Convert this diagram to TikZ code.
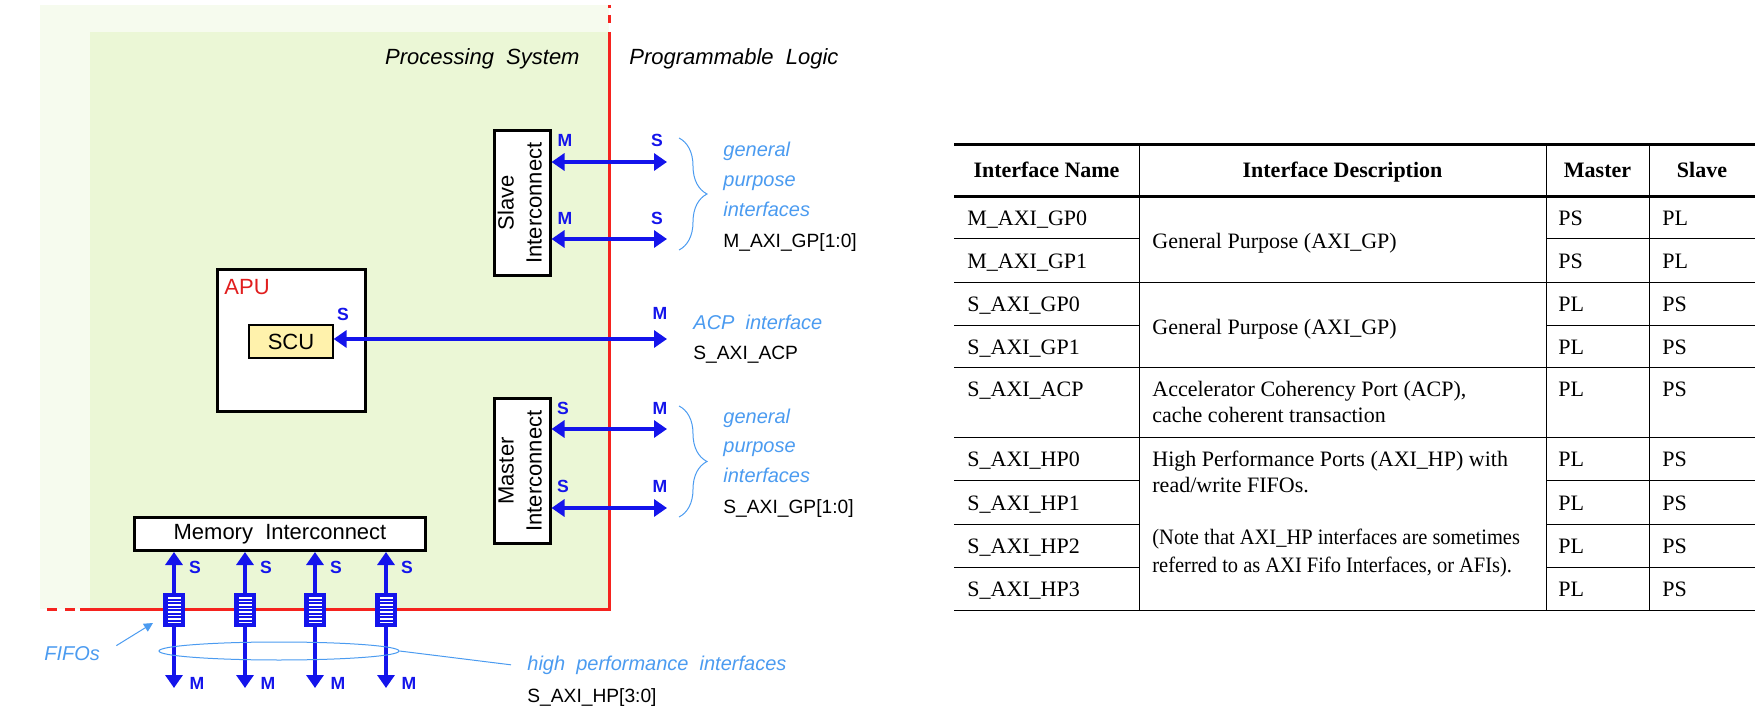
\documentclass[tikz,border=0pt]{standalone}
\usepackage{fontspec}
\setmainfont{Liberation Serif}
\setsansfont{Liberation Sans}
\newfontfamily\narrowserif[FakeStretch=0.93]{Liberation Serif}
\usepackage{graphicx}
\usetikzlibrary{arrows.meta,decorations.pathreplacing,shapes.geometric}

\definecolor{psfade}{RGB}{246,251,238}
\definecolor{psgreen}{RGB}{235,247,214}
\definecolor{plred}{RGB}{245,35,30}
\definecolor{axiblue}{RGB}{20,20,235}
\definecolor{noteblue}{RGB}{75,155,240}
\definecolor{apured}{RGB}{225,30,30}
\definecolor{scuyellow}{RGB}{255,242,172}

\tikzset{
  blk/.style={draw, line width=1.5pt, fill=white, inner sep=0pt, align=center,
    font=\sffamily\fontsize{11}{14}\selectfont},
  bus/.style={axiblue, line width=2.3pt,
    {Triangle[length=6.5pt,width=8.5pt]}-{Triangle[length=6.5pt,width=8.5pt]}},
  port/.style={text=axiblue, inner sep=0pt, font=\sffamily\bfseries\fontsize{8.8}{10}\selectfont},
  fifo/.style={draw=axiblue, fill=axiblue, line width=1pt, inner sep=0pt,
    minimum width=10pt, minimum height=16pt},
  stripe/.style={white, line width=6.5pt, dash pattern=on 0.8pt off 0.95pt},
  note/.style={text=noteblue, inner sep=0pt, anchor=base west,
    font=\sffamily\itshape\fontsize{10}{12}\selectfont},
  sig/.style={inner sep=0pt, anchor=base west, font=\sffamily\fontsize{9.6}{12}\selectfont},
  side/.style={inner sep=0pt, font=\sffamily\itshape\fontsize{11}{14}\selectfont},
  hint/.style={noteblue, line width=0.5pt},
  cell/.style={inner sep=0pt, anchor=base west, font=\fontsize{11}{13.2}\selectfont, align=left},
  head/.style={inner sep=0pt, anchor=base, font=\bfseries\fontsize{11}{13.2}\selectfont},
  thin/.style={line width=0.5pt},
  thick/.style={line width=1.5pt}
}

\begin{document}
\begin{tikzpicture}[x=0.5pt, y=-0.5pt]

  \useasboundingbox (0,0) rectangle (1760,710);

  %% processing system area
  \fill[psfade] (40,5) rectangle (609,609);
  \fill[psgreen] (90,32) rectangle (609,609);
  \draw[plred, line width=1.5pt] (80,609) -- (609,609) -- (609,32);
  \draw[plred, line width=1.5pt, dash pattern=on 5pt off 4pt] (47,609) -- (76,609);
  \draw[plred, line width=1.5pt, dash pattern=on 1.5pt off 3.5pt on 4pt off 4.5pt] (609,5) -- (609,32);

  \node[side, anchor=base east] (ps) at (580,65) {Processing\ \ System};
  \node[side, anchor=base west] (pl) at (629,65) {Programmable\ \ Logic};

  %% blocks
  \node[blk, minimum width=27.5pt, minimum height=72.5pt] (sic) at (522,203)
    {\rotatebox{90}{\begin{tabular}{@{}c@{}}Slave\\Interconnect\end{tabular}}};
  \node[blk, minimum width=27.5pt, minimum height=72.5pt] (mic) at (522,471)
    {\rotatebox{90}{\begin{tabular}{@{}c@{}}Master\\Interconnect\end{tabular}}};
  \node[blk, minimum width=74pt, minimum height=71pt] (apu) at (291.5,340.5) {};
  \node[inner sep=0pt, anchor=base west, text=apured, font=\sffamily\fontsize{11}{14}\selectfont]
    (apulbl) at (224,295) {APU};
  \node[blk, line width=0.6pt, fill=scuyellow, minimum width=42pt, minimum height=16.5pt]
    (scu) at (291,341.5) {SCU};
  \node[blk, minimum width=145.5pt, minimum height=16.5pt] (mem) at (280,534) {Memory\ \ Interconnect};

  %% PL side ends
  \coordinate (gpa) at (667,162);
  \coordinate (gpb) at (667,239);
  \coordinate (acp) at (667,339);
  \coordinate (gpc) at (667,429);
  \coordinate (gpd) at (667,508);
  \coordinate (hpa) at (174,688);
  \coordinate (hpb) at (245,688);
  \coordinate (hpc) at (315,688);
  \coordinate (hpd) at (386,688);

  \draw[bus] (sic.east |- gpa) -- (gpa); %% SI<->PL
  \draw[bus] (sic.east |- gpb) -- (gpb); %% SI<->PL
  \draw[bus] (scu.east |- acp) -- (acp); %% SCU<->PL
  \draw[bus] (mic.east |- gpc) -- (gpc); %% MI<->PL
  \draw[bus] (mic.east |- gpd) -- (gpd); %% MI<->PL
  \draw[bus] (mem.south -| hpa) -- (hpa); %% MEM<->HP0
  \draw[bus] (mem.south -| hpb) -- (hpb); %% MEM<->HP1
  \draw[bus] (mem.south -| hpc) -- (hpc); %% MEM<->HP2
  \draw[bus] (mem.south -| hpd) -- (hpd); %% MEM<->HP3

  %% FIFOs
  \node[fifo] (fifoa) at (174,610) {};
  \node[fifo] (fifob) at (245,610) {};
  \node[fifo] (fifoc) at (315,610) {};
  \node[fifo] (fifod) at (386,610) {};
  \draw[stripe] (fifoa.north) ++(0,4) -- ++(0,26);
  \draw[stripe] (fifob.north) ++(0,4) -- ++(0,26);
  \draw[stripe] (fifoc.north) ++(0,4) -- ++(0,26);
  \draw[stripe] (fifod.north) ++(0,4) -- ++(0,26);

  %% master / slave marks
  \node[port] (pm1) at (565,140) {M};
  \node[port] (pm2) at (565,218) {M};
  \node[port] (ps1) at (657,140) {S};
  \node[port] (ps2) at (657,218) {S};
  \node[port] (pscu) at (343,314) {S};
  \node[port] (pacp) at (660,313) {M};
  \node[port] (ps3) at (563,408) {S};
  \node[port] (ps4) at (563,486) {S};
  \node[port] (pm3) at (660,408) {M};
  \node[port] (pm4) at (660,486) {M};
  \node[port] (pha) at (195,567) {S};
  \node[port] (phb) at (266,567) {S};
  \node[port] (phc) at (336,567) {S};
  \node[port] (phd) at (407,567) {S};
  \node[port] (pma) at (197,683) {M};
  \node[port] (pmb) at (268,683) {M};
  \node[port] (pmc) at (338,683) {M};
  \node[port] (pmd) at (409,683) {M};

  %% interface notes
  \draw[hint, decorate, decoration={brace, amplitude=14pt}] (679,138) -- (679,250);
  \draw[hint, decorate, decoration={brace, amplitude=14pt}] (679,406) -- (679,517);
  \node[note] (gpn1) at (723,157) {general};
  \node[note] (gpn2) at (723,187) {purpose};
  \node[note] (gpn3) at (723,217) {interfaces};
  \node[sig] (gpm) at (723,248) {M\_AXI\_GP[1:0]};
  \node[note] (acpn) at (693,330) {ACP\ \ interface};
  \node[sig] (acps) at (693,360) {S\_AXI\_ACP};
  \node[note] (gpn4) at (723,424) {general};
  \node[note] (gpn5) at (723,453) {purpose};
  \node[note] (gpn6) at (723,483) {interfaces};
  \node[sig] (gps) at (723,514) {S\_AXI\_GP[1:0]};

  \node[note] (fifolbl) at (44,660) {FIFOs};
  \draw[hint, -{Triangle[length=4.5pt,width=4.5pt]}] ([xshift=8pt]fifolbl.north east) -- ([xshift=-5pt,yshift=2pt]fifoa.south west);
  \node[draw=noteblue, line width=0.5pt, ellipse, inner sep=0pt, minimum width=120pt, minimum height=9pt] (hpring) at (279,651) {};
  \node[note] (hpn) at (527,670) {high\ \ performance\ \ interfaces};
  \node[sig] (hps) at (527,702) {S\_AXI\_HP[3:0]};
  \draw[hint] (hpring.east) -- ([xshift=-8pt]hpn.west);

  %% table rules
  \draw[thick] (954,145) -- (1755,145);
  \draw[thick] (954,197) -- (1755,197);
  \draw[thin] (954,283) -- (1755,283);
  \draw[thin] (954,368) -- (1755,368);
  \draw[thin] (954,438) -- (1755,438);
  \draw[thin] (954,610) -- (1755,610);
  \draw[thin] (954,239) -- (1139,239) (1546,239) -- (1755,239);
  \draw[thin] (954,326) -- (1139,326) (1546,326) -- (1755,326);
  \draw[thin] (954,481) -- (1139,481) (1546,481) -- (1755,481);
  \draw[thin] (954,524) -- (1139,524) (1546,524) -- (1755,524);
  \draw[thin] (954,567) -- (1139,567) (1546,567) -- (1755,567);
  \draw[thin] (1139,145) -- (1139,610);
  \draw[thin] (1546,145) -- (1546,610);
  \draw[thin] (1649,145) -- (1649,610);

  %% table header
  \node[head] (hname) at (1046.5,178) {Interface Name};
  \node[head] (hdesc) at (1342.5,178) {Interface Description};
  \node[head] (hmst) at (1597.5,178) {Master};
  \node[head] (hslv) at (1702,178) {Slave};

  %% table names
  \node[cell] (n1) at (967,225.5) {M\_AXI\_GP0};
  \node[cell] (n2) at (967,268.5) {M\_AXI\_GP1};
  \node[cell] (n3) at (967,312) {S\_AXI\_GP0};
  \node[cell] (n4) at (967,354.5) {S\_AXI\_GP1};
  \node[cell] (n5) at (967,397) {S\_AXI\_ACP};
  \node[cell] (n6) at (967,467) {S\_AXI\_HP0};
  \node[cell] (n7) at (967,510) {S\_AXI\_HP1};
  \node[cell] (n8) at (967,553) {S\_AXI\_HP2};
  \node[cell] (n9) at (967,596.5) {S\_AXI\_HP3};

  %% table descriptions (base = last line)
  \node[cell] (d1) at (1152,249) {General Purpose (AXI\_GP)};
  \node[cell] (d2) at (1152,335) {General Purpose (AXI\_GP)};
  \node[cell] (d3) at (1152,423)
    {Accelerator Coherency Port (ACP),\\cache coherent transaction};
  \node[cell] (d4) at (1152,493)
    {High Performance Ports (AXI\_HP) with\\read/write FIFOs.};
  \node[cell, font=\narrowserif\fontsize{11}{13.5}\selectfont] (d5) at (1152,572)
    {(Note that AXI\_HP interfaces are sometimes\\referred to as AXI Fifo Interfaces, or AFIs).};

  %% table master / slave
  \node[cell] (m1) at (1558,225.5) {PS};
  \node[cell] (m2) at (1558,268.5) {PS};
  \node[cell] (m3) at (1558,312) {PL};
  \node[cell] (m4) at (1558,354.5) {PL};
  \node[cell] (m5) at (1558,397) {PL};
  \node[cell] (m6) at (1558,467) {PL};
  \node[cell] (m7) at (1558,510) {PL};
  \node[cell] (m8) at (1558,553) {PL};
  \node[cell] (m9) at (1558,596.5) {PL};
  \node[cell] (s1) at (1662,225.5) {PL};
  \node[cell] (s2) at (1662,268.5) {PL};
  \node[cell] (s3) at (1662,312) {PS};
  \node[cell] (s4) at (1662,354.5) {PS};
  \node[cell] (s5) at (1662,397) {PS};
  \node[cell] (s6) at (1662,467) {PS};
  \node[cell] (s7) at (1662,510) {PS};
  \node[cell] (s8) at (1662,553) {PS};
  \node[cell] (s9) at (1662,596.5) {PS};

\end{tikzpicture}
\end{document}
